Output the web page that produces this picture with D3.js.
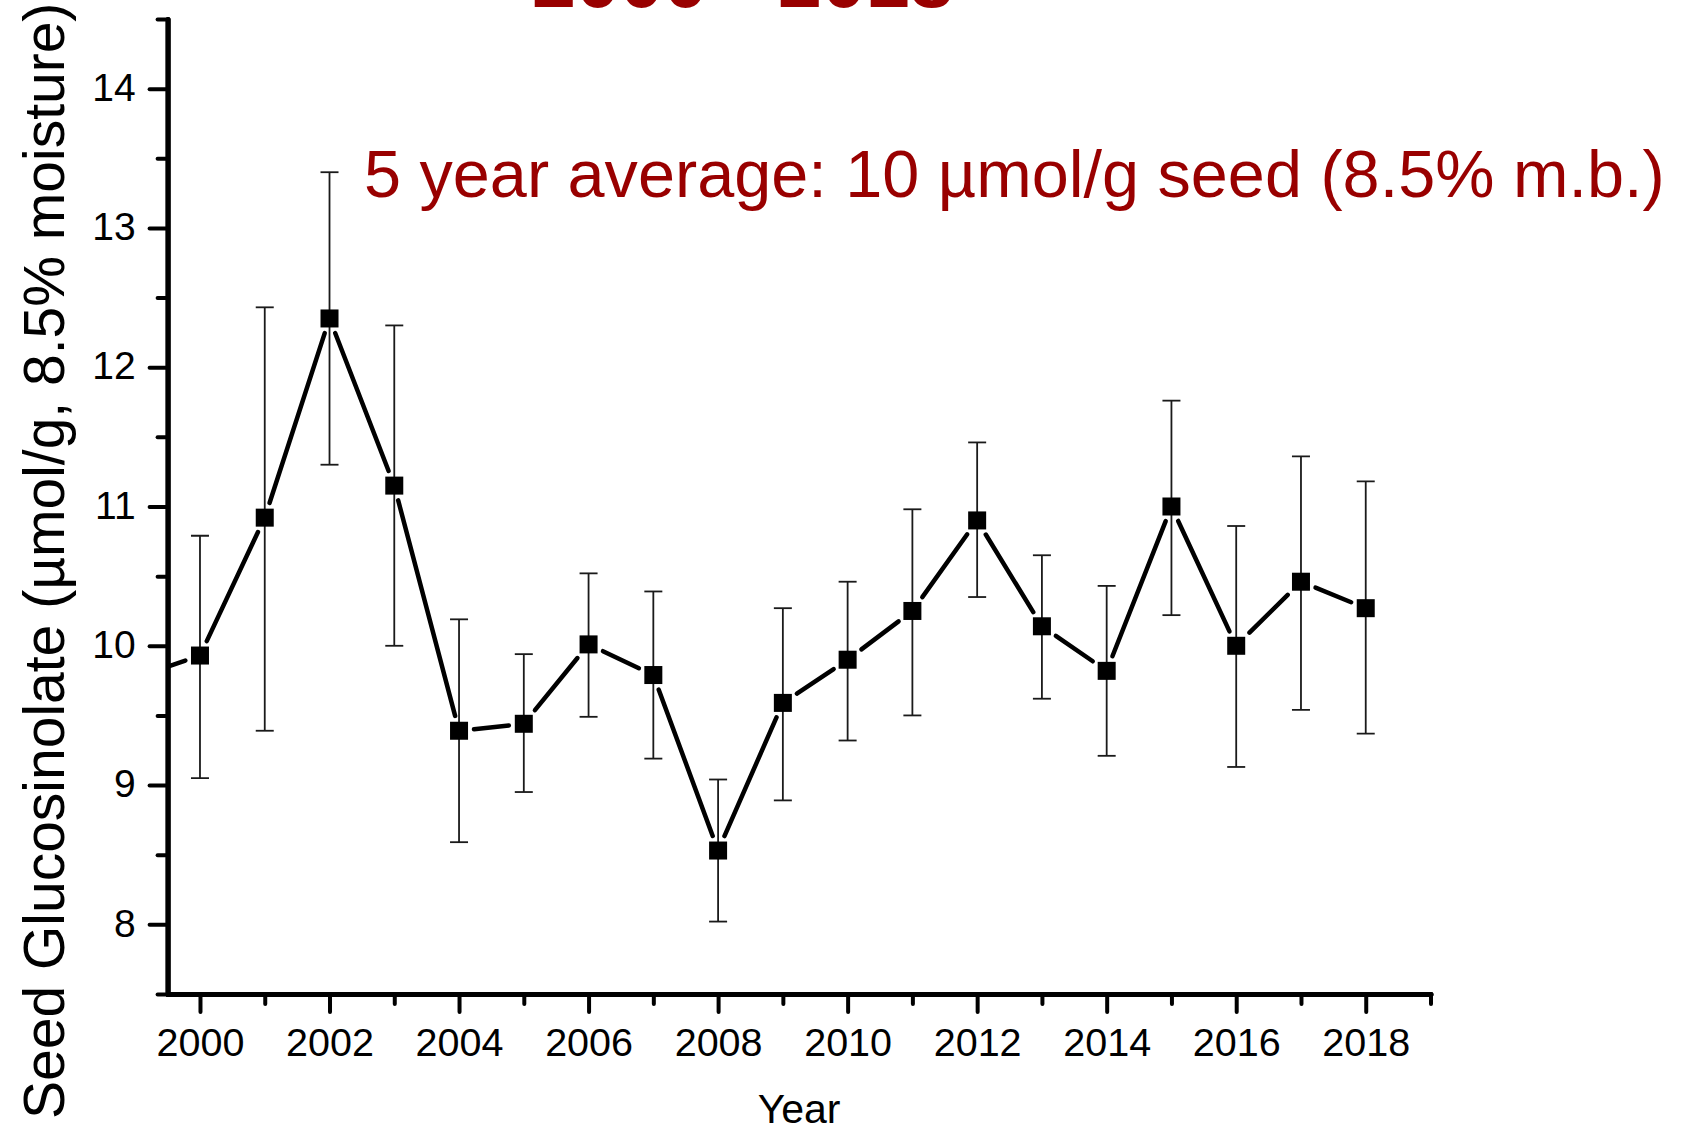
<!DOCTYPE html>
<html>
<head>
<meta charset="utf-8">
<script src="https://cdnjs.cloudflare.com/ajax/libs/d3/7.8.5/d3.min.js"></script>
<style>
  html, body { margin: 0; padding: 0; background: #fff; }
  svg { display: block; }
  text { font-family: "Liberation Sans", Arial, Helvetica, sans-serif; }
</style>
</head>
<body>
<svg id="chart" width="1687" height="1127"></svg>
<script>
// ---- data ----
const years  = [1999, 2000, 2001, 2002, 2003, 2004, 2005, 2006, 2007, 2008, 2009,
                2010, 2011, 2012, 2013, 2014, 2015, 2016, 2017, 2018];
const means  = [9.77, 9.93, 10.92, 12.35, 11.15, 9.39, 9.44, 10.01, 9.79, 8.53, 9.59,
                9.90, 10.25, 10.90, 10.14, 9.82, 11.00, 10.00, 10.46, 10.27];
const upper  = [null, 10.79, 12.43, 13.40, 12.30, 10.19, 9.94, 10.52, 10.39, 9.04, 10.27,
                10.46, 10.98, 11.46, 10.65, 10.43, 11.76, 10.86, 11.36, 11.18];
const lower  = [null, 9.05, 9.39, 11.30, 10.00, 8.59, 8.95, 9.49, 9.19, 8.02, 8.89,
                9.32, 9.50, 10.35, 9.62, 9.21, 10.22, 9.13, 9.54, 9.37];
const xMajorTicks = [2000, 2002, 2004, 2006, 2008, 2010, 2012, 2014, 2016, 2018];
const xMinorTicks = [2001, 2003, 2005, 2007, 2009, 2011, 2013, 2015, 2017, 2019];
const yMajorTicks = [8, 9, 10, 11, 12, 13, 14];
const yMinorTicks = [7.5, 8.5, 9.5, 10.5, 11.5, 12.5, 13.5, 14.5];
const titleText = "2000 - 2018";
const noteText = "5 year average: 10 \u00b5mol/g seed (8.5% m.b.)";
const xTitle = "Year";
const yTitle = "Seed Glucosinolate (\u00b5mol/g, 8.5% moisture)";

const data = years.map((y, i) => ({ year: y, mean: means[i], hi: upper[i], lo: lower[i] }));

// ---- layout ----
const svg = d3.select("#chart");
const x = d3.scaleLinear().domain([1999.5, 2019]).range([167.6, 1430.5]);
const y = d3.scaleLinear().domain([7.5, 14.5]).range([994, 19]);
const red = "#990000";

svg.append("rect").attr("width", 1687).attr("height", 1127).attr("fill", "#fff");

svg.append("defs").append("clipPath").attr("id", "plotclip")
  .append("rect")
  .attr("x", x(1999.5)).attr("y", 0)
  .attr("width", x(2019) - x(1999.5) + 40).attr("height", y(7.5));

// title (partially cut off at top, as in the reference)
svg.append("text")
  .attr("x", 532).attr("y", 7)
  .attr("fill", red).attr("font-size", 79).attr("font-weight", "bold")
  .text(titleText);

// annotation
svg.append("text")
  .attr("x", 364).attr("y", 197)
  .attr("fill", red).attr("font-size", 66.6)
  .text(noteText);

// ---- axes ----
function styleAxis(g) {
  g.select(".domain").attr("stroke", "#000").attr("stroke-width", 5).attr("stroke-linecap", "round");
  g.selectAll(".tick line").attr("stroke", "#000").attr("stroke-width", 4).attr("stroke-linecap", "round");
}

const gyMinor = svg.append("g").attr("transform", `translate(${x(1999.5)},0)`)
  .call(d3.axisLeft(y).tickValues(yMinorTicks).tickSize(10).tickSizeOuter(0).tickFormat(""));
styleAxis(gyMinor);
const gy = svg.append("g").attr("transform", `translate(${x(1999.5)},0)`)
  .call(d3.axisLeft(y).tickValues(yMajorTicks).tickSize(18).tickSizeOuter(0).tickPadding(14)
    .tickFormat(d3.format("d")));
styleAxis(gy);
gy.selectAll(".tick text").attr("font-size", 39).attr("fill", "#000")
  .attr("font-family", "Liberation Sans, Arial, sans-serif").attr("dy", "0.3em");

const gxMinor = svg.append("g").attr("transform", `translate(0,${y(7.5)})`)
  .call(d3.axisBottom(x).tickValues(xMinorTicks).tickSize(10).tickSizeOuter(0).tickFormat(""));
styleAxis(gxMinor);
const gx = svg.append("g").attr("transform", `translate(0,${y(7.5)})`)
  .call(d3.axisBottom(x).tickValues(xMajorTicks).tickSize(18).tickSizeOuter(0).tickPadding(14)
    .tickFormat(d3.format("d")));
styleAxis(gx);
gx.selectAll(".tick text").attr("font-size", 39.5).attr("fill", "#000")
  .attr("font-family", "Liberation Sans, Arial, sans-serif").attr("dy", "0.75em");

// axis titles
svg.append("text")
  .attr("x", (x(1999.5) + x(2019)) / 2).attr("y", 1123)
  .attr("text-anchor", "middle").attr("font-size", 41).attr("fill", "#000")
  .text(xTitle);

svg.append("text")
  .attr("transform", "translate(64,1119) rotate(-90)")
  .attr("text-anchor", "start").attr("font-size", 57).attr("fill", "#000")
  .text(yTitle);

// ---- plot content ----
const plot = svg.append("g").attr("clip-path", "url(#plotclip)");

const eb = plot.append("g").attr("stroke", "#1a1a1a").attr("stroke-width", 1.8);
data.filter(d => d.hi != null).forEach(d => {
  const cx = x(d.year);
  eb.append("line").attr("x1", cx).attr("x2", cx).attr("y1", y(d.hi)).attr("y2", y(d.lo));
  eb.append("line").attr("x1", cx - 9).attr("x2", cx + 9).attr("y1", y(d.hi)).attr("y2", y(d.hi));
  eb.append("line").attr("x1", cx - 9).attr("x2", cx + 9).attr("y1", y(d.lo)).attr("y2", y(d.lo));
});

const half = 9, gap = 6;
const seg = plot.append("g").attr("stroke", "#000").attr("stroke-width", 4.5).attr("stroke-linecap", "round");
for (let i = 0; i < data.length - 1; i++) {
  const x1 = x(data[i].year), y1 = y(data[i].mean);
  const x2 = x(data[i + 1].year), y2 = y(data[i + 1].mean);
  const dx = x2 - x1, dy = y2 - y1, len = Math.hypot(dx, dy);
  const ux = dx / len, uy = dy / len;
  const off = half / Math.max(Math.abs(ux), Math.abs(uy)) + gap;
  seg.append("line")
    .attr("x1", x1 + ux * off).attr("y1", y1 + uy * off)
    .attr("x2", x2 - ux * off).attr("y2", y2 - uy * off);
}

plot.append("g").selectAll("rect").data(data).join("rect")
  .attr("x", d => x(d.year) - half).attr("y", d => y(d.mean) - half)
  .attr("width", half * 2).attr("height", half * 2).attr("fill", "#000");
</script>
</body>
</html>
